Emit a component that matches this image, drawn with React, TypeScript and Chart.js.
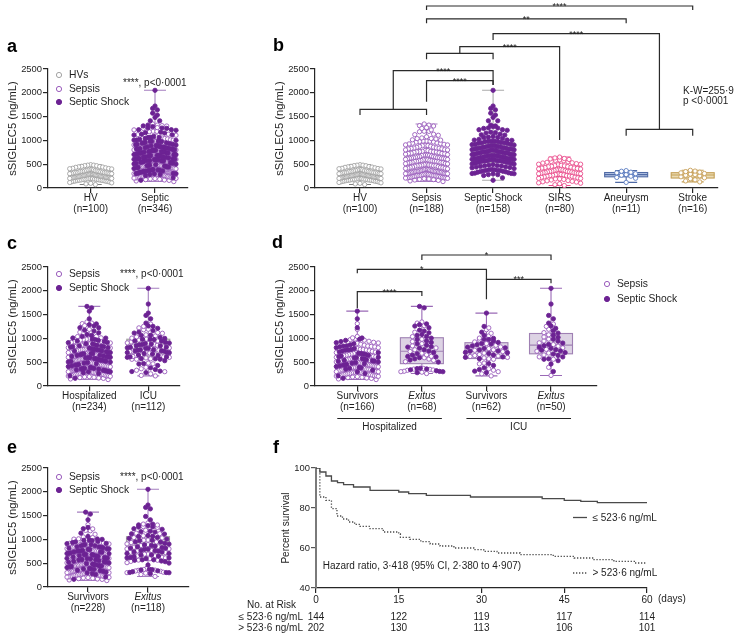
import React, { useEffect, useRef } from 'react';
import { Chart, registerables } from 'chart.js';
Chart.register(...registerables);

const W = 738, H = 635;
const FONT = '"Liberation Sans", Arial, Helvetica, sans-serif';
const AXIS = '#262626';
const TXT = '#1e1e1e';

// ---------------- DATA (ng/mL) ----------------
const hvValues = [72, 85, 98, 108, 116, 123, 130, 136, 142, 148, 153, 158, 162, 166, 170, 174, 178, 182, 186, 190,
  194, 198, 202, 206, 210, 214, 218, 222, 226, 230, 234, 238, 242, 246, 250, 254, 258, 262, 266, 270,
  274, 278, 283, 288, 293, 298, 303, 308, 313, 318, 323, 328, 334, 340, 346, 352, 358, 365, 372, 380,
  388, 396, 405, 414, 424, 434, 445, 456, 468, 480, 490, 195, 215, 235, 255, 275, 300, 325, 350, 380,
  410, 440, 470, 160, 180, 200, 220, 240, 260, 280, 300, 320, 360, 400, 450, 480, 140, 230, 290, 340];
const sirsValues = [52, 70, 90, 108, 125, 140, 155, 168, 180, 192, 203, 214, 224, 234, 243, 252, 260, 268, 276, 284,
  292, 300, 307, 314, 321, 328, 335, 342, 349, 356, 363, 370, 378, 386, 394, 402, 410, 419, 428, 437,
  446, 456, 466, 477, 488, 500, 512, 525, 540, 556, 572, 590, 610, 632, 650, 100, 150, 200, 250, 300,
  350, 400, 450, 500, 550, 600, 620, 580, 530, 470, 420, 380, 340, 310, 280, 230, 190, 130, 260, 320];
const aneurysmValues = [118, 205, 222, 248, 268, 282, 300, 318, 332, 352, 365];
const strokeValues = [128, 148, 172, 196, 214, 236, 255, 268, 280, 292, 305, 318, 332, 344, 356, 372];

const hospSurvSepsis = [135, 148, 160, 168, 176, 183, 190, 196, 203, 209, 215, 220, 226, 231, 238, 243, 249, 255, 262, 268,
  274, 281, 287, 294, 301, 308, 316, 322, 330, 337, 344, 351, 358, 366, 373, 380, 388, 396, 403, 411,
  418, 426, 433, 441, 449, 457, 465, 473, 481, 490, 498, 507, 516, 525, 534, 543, 552, 562, 572, 582,
  592, 603, 614, 625, 636, 648, 660, 672, 685, 698, 712, 726, 741, 756, 772, 788, 805, 822, 840, 858,
  877, 897, 918, 940, 963, 987, 1012, 1040, 1190, 1310, 212, 258, 300, 346, 390, 435, 484, 531, 578, 638,
  702, 764, 832, 905, 975, 241, 282, 352, 415, 468];
const hospSurvShock = [162, 214, 262, 297, 331, 352, 371, 389, 408, 424, 440, 454, 468, 480, 493, 505, 518, 530, 541, 553,
  565, 577, 590, 603, 616, 630, 644, 658, 672, 687, 702, 718, 735, 752, 770, 788, 806, 825, 845, 866,
  888, 910, 934, 958, 983, 1008, 1224, 1412, 1572, 442, 521, 598, 681, 759, 382, 838];
const hospExSepsis = [262, 301, 336, 368, 330, 350, 290, 310, 355, 511, 538, 566, 594, 624, 655, 689, 724, 761, 800, 843,
  889, 934, 983, 1038, 1130, 1268, 1322, 1345];
const hospExShock = [306, 358, 340, 320, 280, 365, 372, 300, 546, 571, 596, 621, 648, 676, 704, 734, 764, 795, 826, 856,
  886, 916, 946, 975, 1006, 1041, 1082, 1118, 1154, 1172, 1224, 1259, 1288, 1304, 1642, 1672, 502, 612, 818, 1062];
const icuSurvSepsis = [212, 256, 301, 331, 362, 590, 640, 466, 760, 620, 572, 601, 631, 661, 691, 721, 751, 786, 821, 856,
  891, 926, 966, 1006, 1052, 1108, 1182, 1221, 481, 561];
const icuSurvShock = [281, 312, 346, 381, 880, 980, 472, 700, 572, 611, 651, 681, 706, 731, 761, 791, 816, 841, 866, 891,
  916, 946, 976, 1001, 1062, 1131, 1252, 1532, 602, 736, 802, 431];
const icuExSepsis = [222, 392, 562, 612, 652, 692, 731, 771, 801, 836, 871, 906, 946, 986, 1031, 1076, 1121, 1192, 1252, 1302];
const icuExShock = [304, 462, 532, 571, 611, 641, 671, 702, 736, 762, 792, 816, 846, 872, 902, 942, 982, 1022, 1066, 1112,
  1162, 1212, 1262, 1322, 1412, 1482, 1722, 2052, 562, 752];

const yTicksConc = [0, 500, 1000, 1500, 2000, 2500];

// Kaplan-Meier (days, % survival)
const kmDaysLow = [0, 0.7, 1.8, 2.8, 3.9, 5, 6.8, 9.8, 15, 16.8, 20, 28, 41, 45, 48, 51, 60];
const kmSurvLow = [100, 98, 96, 93.5, 92.7, 91.7, 90.5, 88.8, 88, 87.2, 86.3, 85.5, 84.7, 83.8, 83.3, 82.7, 82.7];
const kmDaysHigh = [0, 0.7, 1.8, 2.8, 3.8, 4.8, 5.9, 7, 8, 9.8, 12.2, 15, 15.3, 17, 19, 20.7, 22.5, 25, 28.6, 30.4, 32.8, 37, 43, 46.8, 50.4, 54, 57.7, 60];
const kmSurvHigh = [100, 85.5, 83.8, 79.7, 76, 74.5, 73, 71.8, 70.8, 69.7, 68, 67, 65.3, 64.3, 63.2, 62, 61, 60, 59.2, 58.3, 57.5, 56.7, 55.8, 55, 54.2, 53.3, 52.5, 52.5];
const riskDays = [0, 15, 30, 45, 60];
const riskLow = [144, 122, 119, 117, 114];
const riskHigh = [202, 130, 113, 106, 101];

// ---------------- STYLES ----------------
type Kind = 'hv' | 'sepsis' | 'shock' | 'sirs' | 'aneurysm' | 'stroke';
const KIND_STYLE: Record<Kind, { fill: string; stroke: string }> = {
  hv: { fill: '#ffffff', stroke: '#a3a3a3' },
  sepsis: { fill: '#ffffff', stroke: '#9a5cbc' },
  shock: { fill: '#6c2293', stroke: '#6c2293' },
  sirs: { fill: '#ffffff', stroke: '#ea4f8d' },
  aneurysm: { fill: '#ffffff', stroke: '#5b7dc2' },
  stroke: { fill: '#ffffff', stroke: '#c8a05a' },
};
type BoxStyle = { fill: string; line: string; whisker: string; median: string };
const BOX_GRAY: BoxStyle = { fill: 'rgba(0,0,0,0)', line: '#6d6d6d', whisker: '#808080', median: '#5d5d5d' };
const BOX_SEPTIC: BoxStyle = { fill: '#d4d4d4', line: '#a0a0a0', whisker: '#a57fc0', median: '#9a9a9a' };
const BOX_SHOCK_B: BoxStyle = { fill: '#d4d4d4', line: '#a0a0a0', whisker: '#aaaaaa', median: '#9a9a9a' };
const BOX_D: BoxStyle = { fill: '#ddd3e4', line: '#9f80b3', whisker: '#9a6ab6', median: '#9f80b3' };
const BOX_SIRS: BoxStyle = { fill: 'rgba(238,120,165,0.15)', line: '#ea4f8d', whisker: '#ea4f8d', median: '#ea4f8d' };
const BOX_ANEU: BoxStyle = { fill: '#b5c4e4', line: '#4f6aa5', whisker: '#4f6aa5', median: '#4f6aa5' };
const BOX_STROKE: BoxStyle = { fill: '#ebdbb3', line: '#c49f55', whisker: '#c49f55', median: '#c49f55' };

// ---------------- HELPERS ----------------
type TxtOpt = { size?: number; bold?: boolean; italic?: boolean; align?: CanvasTextAlign; base?: CanvasTextBaseline; color?: string };
function txt(ctx: CanvasRenderingContext2D, s: string, x: number, y: number, o: TxtOpt = {}) {
  ctx.save();
  ctx.font = `${o.italic ? 'italic ' : ''}${o.bold ? 'bold ' : ''}${o.size ?? 10}px ${FONT}`;
  ctx.fillStyle = o.color ?? TXT;
  ctx.textAlign = o.align ?? 'left';
  ctx.textBaseline = o.base ?? 'middle';
  ctx.fillText(s, x, y);
  ctx.restore();
}
function yTitle(ctx: CanvasRenderingContext2D, s: string, x: number, y: number, size: number) {
  ctx.save();
  ctx.translate(x, y);
  ctx.rotate(-Math.PI / 2);
  txt(ctx, s, 0, 0, { size, align: 'center' });
  ctx.restore();
}
function marker(ctx: CanvasRenderingContext2D, x: number, y: number, kind: Kind) {
  ctx.save();
  ctx.beginPath();
  ctx.arc(x, y, 2.6, 0, Math.PI * 2);
  ctx.fillStyle = KIND_STYLE[kind].fill;
  ctx.fill();
  ctx.lineWidth = 1;
  ctx.strokeStyle = KIND_STYLE[kind].stroke;
  ctx.stroke();
  ctx.restore();
}
function quantile(sorted: number[], p: number) {
  const idx = (sorted.length - 1) * p;
  const lo = Math.floor(idx), hi = Math.ceil(idx);
  return sorted[lo] + (sorted[hi] - sorted[lo]) * (idx - lo);
}
type SP = { v: number; kind: Kind };
function swarm(pts: SP[], center: number, step: number) {
  const BIN = 100, DOT = 4.7, HALF = 21;
  const bins = new Map<number, SP[]>();
  pts.forEach(p => {
    const k = Math.floor(p.v / BIN);
    if (!bins.has(k)) bins.set(k, []);
    bins.get(k)!.push(p);
  });
  const out: { x: number; v: number; kind: Kind }[] = [];
  bins.forEach(list => {
    list.sort((a, b) => b.v - a.v);
    const n = list.length;
    const sp = n > 1 ? Math.min(DOT, (2 * HALF) / (n - 1)) : 0;
    const slots = list.map((_, j) => (j - (n - 1) / 2) * sp).sort((a, b) => Math.abs(a) - Math.abs(b) || a - b);
    list.forEach((p, i) => out.push({ x: center + slots[i] / step, v: p.v, kind: p.kind }));
  });
  return out;
}

type Part = { values: number[]; kind: Kind };
type Group = { parts: Part[]; box: BoxStyle; label: string; n: string; italic?: boolean };
type Bracket = { a: number; b: number; bar: number; legA: number; legB: number; label?: string };
type DotCfg = {
  plotL: number; plotR: number; plotT: number; plotB: number; c0: number; step: number;
  groups: Group[]; brackets?: Bracket[];
  extras?: (ctx: CanvasRenderingContext2D, chart: any) => void;
};

function makeDotChart(canvas: HTMLCanvasElement, cfg: DotCfg) {
  const YW = 40, XH = 6;
  const xmin = (cfg.plotL - cfg.c0) / cfg.step;
  const xmax = (cfg.plotR - cfg.c0) / cfg.step;
  const buckets: Partial<Record<Kind, { x: number; y: number }[]>> = {};
  cfg.groups.forEach((g, gi) => {
    const pts: SP[] = g.parts.flatMap(p => p.values.map(v => ({ v, kind: p.kind })));
    for (const p of swarm(pts, gi, cfg.step)) {
      if (!buckets[p.kind]) buckets[p.kind] = [];
      buckets[p.kind]!.push({ x: p.x, y: p.v });
    }
  });
  const order: Kind[] = ['shock', 'sepsis', 'hv', 'sirs', 'aneurysm', 'stroke'];
  const datasets = order.filter(k => buckets[k]).map(k => ({
    data: buckets[k],
    pointRadius: 2.15,
    pointHoverRadius: 2.15,
    pointBorderWidth: 0.9,
    pointBackgroundColor: KIND_STYLE[k].fill,
    pointBorderColor: KIND_STYLE[k].stroke,
    showLine: false,
  }));
  const plugin = {
    id: 'dotbox',
    beforeDatasetsDraw(chart: any) {
      const ctx: CanvasRenderingContext2D = chart.ctx;
      const xs = chart.scales.x, ys = chart.scales.y;
      cfg.groups.forEach((g, gi) => {
        const vals = g.parts.flatMap(p => p.values).slice().sort((a, b) => a - b);
        const q1 = quantile(vals, 0.25), med = quantile(vals, 0.5), q3 = quantile(vals, 0.75);
        const mn = vals[0], mx = vals[vals.length - 1];
        const cx = xs.getPixelForValue(gi);
        const hw = 21.5, cw = 11;
        ctx.save();
        ctx.lineWidth = 1.1;
        ctx.strokeStyle = g.box.whisker;
        ctx.beginPath();
        ctx.moveTo(cx, ys.getPixelForValue(q3)); ctx.lineTo(cx, ys.getPixelForValue(mx));
        ctx.moveTo(cx - cw, ys.getPixelForValue(mx)); ctx.lineTo(cx + cw, ys.getPixelForValue(mx));
        ctx.moveTo(cx, ys.getPixelForValue(q1)); ctx.lineTo(cx, ys.getPixelForValue(mn));
        ctx.moveTo(cx - cw, ys.getPixelForValue(mn)); ctx.lineTo(cx + cw, ys.getPixelForValue(mn));
        ctx.stroke();
        const yT = ys.getPixelForValue(q3), yB = ys.getPixelForValue(q1);
        ctx.fillStyle = g.box.fill;
        ctx.fillRect(cx - hw, yT, hw * 2, yB - yT);
        ctx.strokeStyle = g.box.line;
        ctx.strokeRect(cx - hw, yT, hw * 2, yB - yT);
        ctx.strokeStyle = g.box.median;
        ctx.beginPath();
        ctx.moveTo(cx - hw, ys.getPixelForValue(med)); ctx.lineTo(cx + hw, ys.getPixelForValue(med));
        ctx.stroke();
        ctx.restore();
      });
    },
    afterDraw(chart: any) {
      const ctx: CanvasRenderingContext2D = chart.ctx;
      const xs = chart.scales.x, ys = chart.scales.y;
      cfg.groups.forEach((g, gi) => {
        const cx = xs.getPixelForValue(gi);
        txt(ctx, g.label, cx, cfg.plotB + 10.5, { size: 10, align: 'center', italic: g.italic });
        txt(ctx, g.n, cx, cfg.plotB + 20.8, { size: 10, align: 'center' });
      });
      yTitle(ctx, 'sSIGLEC5 (ng/mL)', cfg.plotL - 35, (cfg.plotT + cfg.plotB) / 2, 11.2);
      for (const br of cfg.brackets ?? []) {
        const xa = xs.getPixelForValue(br.a), xb = xs.getPixelForValue(br.b);
        const yb = ys.getPixelForValue(br.bar);
        ctx.save();
        ctx.beginPath();
        ctx.moveTo(xa, ys.getPixelForValue(br.legA));
        ctx.lineTo(xa, yb);
        ctx.lineTo(xb, yb);
        ctx.lineTo(xb, ys.getPixelForValue(br.legB));
        ctx.strokeStyle = '#2a2a2a';
        ctx.lineWidth = 1.2;
        ctx.stroke();
        ctx.restore();
        if (br.label) txt(ctx, br.label, (xa + xb) / 2, yb + 3, { size: 9, align: 'center', base: 'alphabetic' });
      }
      cfg.extras?.(ctx, chart);
    },
  };
  return new Chart(canvas, {
    type: 'scatter',
    data: { datasets: datasets as any },
    options: {
      responsive: false,
      animation: false,
      events: [],
      layout: { padding: { left: cfg.plotL - YW, right: W - cfg.plotR, top: cfg.plotT, bottom: H - cfg.plotB - XH } },
      plugins: { legend: { display: false }, tooltip: { enabled: false } },
      scales: {
        x: {
          type: 'linear', min: xmin, max: xmax,
          afterBuildTicks: (s: any) => { s.ticks = cfg.groups.map((_, i) => ({ value: i })); },
          afterFit: (s: any) => { s.height = XH; },
          ticks: { display: false },
          grid: { display: true, drawOnChartArea: false, drawTicks: true, tickLength: 5, color: AXIS, lineWidth: 1.2 },
          border: { display: true, color: AXIS, width: 1.2 },
        },
        y: {
          type: 'linear', min: 0, max: 2500,
          afterBuildTicks: (s: any) => { s.ticks = yTicksConc.map(v => ({ value: v })); },
          afterFit: (s: any) => { s.width = YW; },
          ticks: { padding: 1, color: TXT, font: { family: FONT, size: 9.4 }, callback: (v: any) => String(v) },
          grid: { display: true, drawOnChartArea: false, drawTicks: true, tickLength: 5, color: AXIS, lineWidth: 1.2 },
          border: { display: true, color: AXIS, width: 1.2 },
        },
      },
    } as any,
    plugins: [plugin],
  });
}

const allSepsis = [...hospSurvSepsis, ...hospExSepsis, ...icuSurvSepsis, ...icuExSepsis];
const allShock = [...hospSurvShock, ...hospExShock, ...icuSurvShock, ...icuExShock];

function legendSepsisShock(ctx: CanvasRenderingContext2D, x: number, y1: number, y2: number) {
  marker(ctx, x, y1, 'sepsis');
  txt(ctx, 'Sepsis', x + 10, y1, { size: 10.3 });
  marker(ctx, x, y2, 'shock');
  txt(ctx, 'Septic Shock', x + 10, y2, { size: 10.3 });
}

function makeA(c: HTMLCanvasElement) {
  return makeDotChart(c, {
    plotL: 48, plotR: 188, plotT: 69, plotB: 188, c0: 90.7, step: 64.3,
    groups: [
      { parts: [{ values: hvValues, kind: 'hv' }], box: BOX_GRAY, label: 'HV', n: '(n=100)' },
      { parts: [{ values: allSepsis, kind: 'sepsis' }, { values: allShock, kind: 'shock' }], box: BOX_SEPTIC, label: 'Septic', n: '(n=346)' },
    ],
    extras: (ctx) => {
      txt(ctx, 'a', 7, 51.5, { size: 18, bold: true, base: 'alphabetic', color: '#000' });
      marker(ctx, 59, 75, 'hv');
      txt(ctx, 'HVs', 69, 75, { size: 10.3 });
      legendSepsisShock(ctx, 59, 89, 102);
      txt(ctx, '****, p<0·0001', 123, 83, { size: 10 });
    },
  });
}

function makeB(c: HTMLCanvasElement) {
  return makeDotChart(c, {
    plotL: 315, plotR: 718, plotT: 69, plotB: 188, c0: 360, step: 66.54,
    groups: [
      { parts: [{ values: hvValues, kind: 'hv' }], box: BOX_GRAY, label: 'HV', n: '(n=100)' },
      { parts: [{ values: allSepsis, kind: 'sepsis' }], box: { ...BOX_SEPTIC, fill: '#dcdcdc' }, label: 'Sepsis', n: '(n=188)' },
      { parts: [{ values: allShock, kind: 'shock' }], box: BOX_SHOCK_B, label: 'Septic Shock', n: '(n=158)' },
      { parts: [{ values: sirsValues, kind: 'sirs' }], box: BOX_SIRS, label: 'SIRS', n: '(n=80)' },
      { parts: [{ values: aneurysmValues, kind: 'aneurysm' }], box: BOX_ANEU, label: 'Aneurysm', n: '(n=11)' },
      { parts: [{ values: strokeValues, kind: 'stroke' }], box: BOX_STROKE, label: 'Stroke', n: '(n=16)' },
    ],
    brackets: [
      { a: 0, b: 1, bar: 1653, legA: 1534, legB: 1534 },
      { a: 1, b: 2, bar: 2254, legA: 1813, legB: 2164, label: '****' },
      { a: 0.5, b: 2, bar: 2464, legA: 1653, legB: 2164, label: '****' },
      { a: 1, b: 2, bar: 2830, legA: 2704, legB: 2704 },
      { a: 1.5, b: 3, bar: 2969, legA: 2830, legB: 1008, label: '****' },
      { a: 4, b: 5, bar: 1233, legA: 1099, legB: 1099 },
      { a: 2, b: 4.5, bar: 3242, legA: 3110, legB: 1233, label: '****' },
      { a: 1, b: 4, bar: 3551, legA: 3460, legB: 3460, label: '**' },
      { a: 1, b: 5, bar: 3824, legA: 3740, legB: 3740, label: '****' },
    ],
    extras: (ctx) => {
      txt(ctx, 'b', 273, 51, { size: 18, bold: true, base: 'alphabetic', color: '#000' });
      txt(ctx, 'K-W=255·9', 683, 91, { size: 10 });
      txt(ctx, 'p <0·0001', 683, 101, { size: 10 });
    },
  });
}

function makeC(c: HTMLCanvasElement) {
  return makeDotChart(c, {
    plotL: 48, plotR: 180, plotT: 267, plotB: 386, c0: 89.3, step: 59,
    groups: [
      { parts: [{ values: [...hospSurvSepsis, ...hospExSepsis], kind: 'sepsis' }, { values: [...hospSurvShock, ...hospExShock], kind: 'shock' }], box: BOX_SEPTIC, label: 'Hospitalized', n: '(n=234)' },
      { parts: [{ values: [...icuSurvSepsis, ...icuExSepsis], kind: 'sepsis' }, { values: [...icuSurvShock, ...icuExShock], kind: 'shock' }], box: BOX_SEPTIC, label: 'ICU', n: '(n=112)' },
    ],
    extras: (ctx) => {
      txt(ctx, 'c', 7, 249, { size: 18, bold: true, base: 'alphabetic', color: '#000' });
      legendSepsisShock(ctx, 59, 274, 288);
      txt(ctx, '****, p<0·0001', 120, 274, { size: 10 });
    },
  });
}

function makeD(c: HTMLCanvasElement) {
  return makeDotChart(c, {
    plotL: 315, plotR: 597, plotT: 267, plotB: 386, c0: 357.3, step: 64.57,
    groups: [
      { parts: [{ values: hospSurvSepsis, kind: 'sepsis' }, { values: hospSurvShock, kind: 'shock' }], box: BOX_D, label: 'Survivors', n: '(n=166)' },
      { parts: [{ values: hospExSepsis, kind: 'sepsis' }, { values: hospExShock, kind: 'shock' }], box: BOX_D, label: 'Exitus', n: '(n=68)', italic: true },
      { parts: [{ values: icuSurvSepsis, kind: 'sepsis' }, { values: icuSurvShock, kind: 'shock' }], box: BOX_D, label: 'Survivors', n: '(n=62)' },
      { parts: [{ values: icuExSepsis, kind: 'sepsis' }, { values: icuExShock, kind: 'shock' }], box: BOX_D, label: 'Exitus', n: '(n=50)', italic: true },
    ],
    brackets: [
      { a: 1, b: 3, bar: 2752, legA: 2647, legB: 2647, label: '*' },
      { a: 0, b: 2, bar: 2452, legA: 2368, legB: 2242, label: '*' },
      { a: 2, b: 3, bar: 2242, legA: 1822, legB: 2158, label: '***' },
      { a: 0, b: 1, bar: 1981, legA: 1632, legB: 1891, label: '****' },
    ],
    extras: (ctx, chart) => {
      const xs = chart.scales.x;
      txt(ctx, 'd', 272, 248, { size: 18, bold: true, base: 'alphabetic', color: '#000' });
      legendSepsisShock(ctx, 607, 284, 299);
      const groups = [{ mid: 0.5, name: 'Hospitalized' }, { mid: 2.5, name: 'ICU' }];
      for (const g of groups) {
        const x1 = xs.getPixelForValue(g.mid - 0.81), x2 = xs.getPixelForValue(g.mid + 0.81);
        ctx.save();
        ctx.strokeStyle = '#222';
        ctx.lineWidth = 1;
        ctx.beginPath();
        ctx.moveTo(x1, 418.5); ctx.lineTo(x2, 418.5);
        ctx.stroke();
        ctx.restore();
        txt(ctx, g.name, xs.getPixelForValue(g.mid), 427.5, { size: 10, align: 'center' });
      }
    },
  });
}

function makeE(c: HTMLCanvasElement) {
  return makeDotChart(c, {
    plotL: 48, plotR: 189, plotT: 468, plotB: 587, c0: 88, step: 60,
    groups: [
      { parts: [{ values: [...hospSurvSepsis, ...icuSurvSepsis], kind: 'sepsis' }, { values: [...hospSurvShock, ...icuSurvShock], kind: 'shock' }], box: BOX_SEPTIC, label: 'Survivors', n: '(n=228)' },
      { parts: [{ values: [...hospExSepsis, ...icuExSepsis], kind: 'sepsis' }, { values: [...hospExShock, ...icuExShock], kind: 'shock' }], box: BOX_SEPTIC, label: 'Exitus', n: '(n=118)', italic: true },
    ],
    extras: (ctx) => {
      txt(ctx, 'e', 7, 453, { size: 18, bold: true, base: 'alphabetic', color: '#000' });
      legendSepsisShock(ctx, 59, 477, 490);
      txt(ctx, '****, p<0·0001', 120, 477, { size: 10 });
    },
  });
}

function makeF(c: HTMLCanvasElement) {
  const plotL = 316, plotR = 647, plotT = 468, plotB = 588, YW = 30, XH = 20;
  const plugin = {
    id: 'kmextras',
    afterDraw(chart: any) {
      const ctx: CanvasRenderingContext2D = chart.ctx;
      const xs = chart.scales.x;
      txt(ctx, 'f', 273, 453, { size: 18, bold: true, base: 'alphabetic', color: '#000' });
      yTitle(ctx, 'Percent survival', 286, (plotT + plotB) / 2, 10);
      txt(ctx, '(days)', 658, 599.5, { size: 10 });
      ctx.save();
      ctx.strokeStyle = '#4a4a4a';
      ctx.lineWidth = 1.3;
      ctx.beginPath(); ctx.moveTo(573, 517.5); ctx.lineTo(587, 517.5); ctx.stroke();
      ctx.setLineDash([1.3, 1.7]);
      ctx.beginPath(); ctx.moveTo(573, 573); ctx.lineTo(587, 573); ctx.stroke();
      ctx.restore();
      txt(ctx, '≤ 523·6 ng/mL', 592.5, 518, { size: 10 });
      txt(ctx, '> 523·6 ng/mL', 592.5, 573, { size: 10 });
      txt(ctx, 'Hazard ratio, 3·418 (95% CI, 2·380 to 4·907)', 322.7, 566.7, { size: 10 });
      txt(ctx, 'No. at Risk', 247, 605.5, { size: 10 });
      txt(ctx, '≤ 523·6 ng/mL', 303, 617, { size: 10, align: 'right' });
      txt(ctx, '> 523·6 ng/mL', 303, 628.3, { size: 10, align: 'right' });
      riskDays.forEach((d, i) => {
        const x = xs.getPixelForValue(d);
        txt(ctx, String(riskLow[i]), x, 617, { size: 10, align: 'center' });
        txt(ctx, String(riskHigh[i]), x, 628.3, { size: 10, align: 'center' });
      });
    },
  };
  return new Chart(c, {
    type: 'line',
    data: {
      datasets: [
        { data: kmDaysLow.map((d, i) => ({ x: d, y: kmSurvLow[i] })), borderColor: '#4a4a4a', borderWidth: 1.3, pointRadius: 0, stepped: true, fill: false },
        { data: kmDaysHigh.map((d, i) => ({ x: d, y: kmSurvHigh[i] })), borderColor: '#4a4a4a', borderWidth: 1.3, borderDash: [1.3, 1.7], pointRadius: 0, stepped: true, fill: false },
      ] as any,
    },
    options: {
      responsive: false,
      animation: false,
      events: [],
      layout: { padding: { left: plotL - YW, right: W - plotR, top: plotT, bottom: H - plotB - XH } },
      plugins: { legend: { display: false }, tooltip: { enabled: false } },
      scales: {
        x: {
          type: 'linear', min: 0, max: 60,
          afterFit: (s: any) => { s.height = XH; },
          ticks: { stepSize: 15, padding: 1, color: TXT, font: { family: FONT, size: 10 }, maxRotation: 0, callback: (v: any) => String(v) },
          grid: { display: true, drawOnChartArea: false, drawTicks: true, tickLength: 5, color: AXIS, lineWidth: 1.2 },
          border: { display: true, color: AXIS, width: 1.2 },
        },
        y: {
          type: 'linear', min: 40, max: 100,
          afterFit: (s: any) => { s.width = YW; },
          ticks: { stepSize: 20, padding: 1, color: TXT, font: { family: FONT, size: 9.4 }, callback: (v: any) => String(v) },
          grid: { display: true, drawOnChartArea: false, drawTicks: true, tickLength: 5, color: '#555', lineWidth: 1.2 },
          border: { display: true, color: '#7a7a7a', width: 2 },
        },
      },
    } as any,
    plugins: [plugin],
  });
}

export default function App() {
  const r0 = useRef<HTMLCanvasElement>(null);
  const r1 = useRef<HTMLCanvasElement>(null);
  const r2 = useRef<HTMLCanvasElement>(null);
  const r3 = useRef<HTMLCanvasElement>(null);
  const r4 = useRef<HTMLCanvasElement>(null);
  const r5 = useRef<HTMLCanvasElement>(null);
  const refs = [r0, r1, r2, r3, r4, r5];
  useEffect(() => {
    const makers = [makeA, makeB, makeC, makeD, makeE, makeF];
    const charts = makers.map((m, i) => m(refs[i].current!));
    return () => charts.forEach(ch => ch.destroy());
  }, []);
  return (
    <div style={{ position: 'absolute', left: 0, top: 0, width: W, height: H, background: '#fff', overflow: 'hidden' }}>
      {refs.map((r, i) => (
        <canvas key={i} ref={r} width={W} height={H} style={{ position: 'absolute', left: 0, top: 0, width: W, height: H }} />
      ))}
    </div>
  );
}
